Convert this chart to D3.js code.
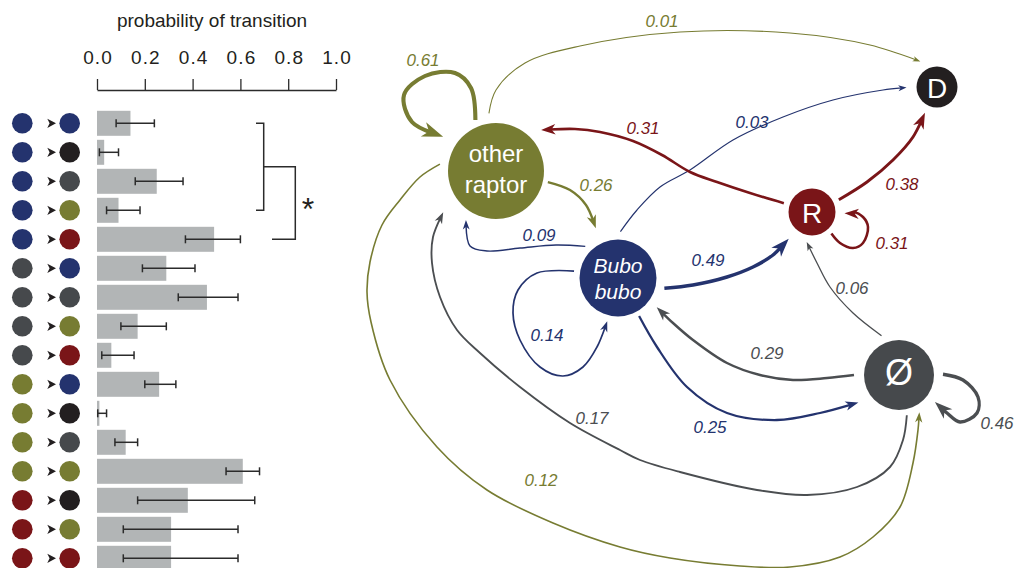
<!DOCTYPE html>
<html>
<head>
<meta charset="utf-8">
<script src="https://cdn.jsdelivr.net/npm/d3@7"></script>
<style>
  html, body { margin: 0; padding: 0; background: #fff; }
  svg { display: block; font-family: "Liberation Sans", Arial, sans-serif; }
</style>
</head>
<body>
<svg id="chart" width="1014" height="568"></svg>
<script>
// ---------------- data ----------------
// states: B = Bubo bubo, D = D, N = Ø (empty), O = other raptor, R = R
const stateKeys = ["B", "D", "N", "O", "R"];
const stateLabels = { B: ["Bubo", "bubo"], D: ["D"], N: ["Ø"], O: ["other", "raptor"], R: ["R"] };

// transitions (one row in the bar panel, one edge in the network)
const transFrom = ["B", "B", "B", "B", "B", "N", "N", "N", "N", "O", "O", "O", "O", "R", "R", "R"];
const transTo   = ["B", "D", "N", "O", "R", "B", "N", "O", "R", "B", "D", "N", "O", "D", "O", "R"];
const probMean  = [0.14, 0.03, 0.25, 0.09, 0.49, 0.29, 0.46, 0.17, 0.06, 0.26, 0.01, 0.12, 0.61, 0.38, 0.31, 0.31];
const ciLow     = [0.08, 0.01, 0.16, 0.04, 0.37, 0.19, 0.34, 0.10, 0.02, 0.20, 0.003, 0.075, 0.54, 0.17, 0.11, 0.11];
const ciHigh    = [0.24, 0.09, 0.36, 0.18, 0.60, 0.41, 0.59, 0.29, 0.155, 0.33, 0.04, 0.17, 0.68, 0.66, 0.59, 0.59];

const axisTicks = [0, 0.2, 0.4, 0.6, 0.8, 1.0];
const axisTitle = "probability of transition";

// significance bracket: rows 0-3 grouped, compared against row 4
const sigGroup = [0, 3];
const sigOther = 4;
const sigMark = "*";

// ---------------- styles ----------------
const stateColor = { B: "#24336e", D: "#231f20", N: "#46494c", O: "#777c32", R: "#7a1518" };
const edgeColor  = { B: "#24336e", D: "#231f20", N: "#4b4e51", O: "#777c32", R: "#7a1518" };
const barColor = "#b2b5b6";
const inkColor = "#2b2b2b";
const FONT = '"Liberation Sans", Arial, sans-serif';

const svg = d3.select("#chart");

// ---------------- bar panel ----------------
const x = d3.scaleLinear().domain([0, 1]).range([97, 336]);
const rows = d3.range(probMean.length);
const y = d3.scaleBand().domain(rows).range([108.8, 572.8]).paddingInner(0.138).paddingOuter(0.069);
const yc = i => y(i) + y.bandwidth() / 2;

svg.append("text")
  .attr("x", 212).attr("y", 27)
  .attr("text-anchor", "middle")
  .attr("font-size", 19).attr("fill", "#231f20")
  .text(axisTitle);

const gAxis = svg.append("g")
  .attr("transform", "translate(0,90)")
  .call(d3.axisTop(x).tickValues(axisTicks).tickFormat(d3.format(".1f"))
    .tickSize(11).tickSizeOuter(0).tickPadding(15));
gAxis.attr("font-family", FONT).attr("font-size", 19);
gAxis.select(".domain").attr("stroke", inkColor).attr("stroke-width", 1.3);
gAxis.selectAll(".tick line").attr("stroke", inkColor).attr("stroke-width", 1.3);
gAxis.selectAll(".tick text").attr("fill", "#231f20")
  .attr("letter-spacing", 1.1).attr("dx", 0.55);

const gRows = svg.append("g");
const row = gRows.selectAll("g.row").data(rows).join("g").attr("class", "row");

row.append("circle")
  .attr("cx", 22.3).attr("cy", yc).attr("r", 10.3)
  .attr("fill", i => stateColor[transFrom[i]]);
row.append("path")
  .attr("d", i => {
    const c = yc(i);
    return `M56,${c} L47.3,${c - 4.6} L49.6,${c} L47.3,${c + 4.6} Z`;
  })
  .attr("fill", "#231f20");
row.append("circle")
  .attr("cx", 69.7).attr("cy", yc).attr("r", 10.3)
  .attr("fill", i => stateColor[transTo[i]]);

row.append("rect")
  .attr("x", x(0)).attr("y", i => y(i))
  .attr("width", i => x(probMean[i]) - x(0))
  .attr("height", y.bandwidth())
  .attr("fill", barColor);

row.append("line")
  .attr("x1", i => x(ciLow[i])).attr("x2", i => x(ciHigh[i]))
  .attr("y1", yc).attr("y2", yc)
  .attr("stroke", inkColor).attr("stroke-width", 1.5);
row.selectAll("line.cap")
  .data(i => [ciLow[i], ciHigh[i]].map(v => ({ v, i })))
  .join("line").attr("class", "cap")
  .attr("x1", d => x(d.v)).attr("x2", d => x(d.v))
  .attr("y1", d => yc(d.i) - 4).attr("y2", d => yc(d.i) + 4)
  .attr("stroke", inkColor).attr("stroke-width", 1.5);

// significance bracket
const yTop = yc(sigGroup[0]), yBot = yc(sigGroup[1]);
const yMid = (yTop + yBot) / 2, yOut = yc(sigOther);
const br = svg.append("g").attr("fill", "none").attr("stroke", inkColor).attr("stroke-width", 1.5);
br.append("path").attr("d", `M256,${yTop} H263.7 V${yBot} H256`);
br.append("path").attr("d", `M263.7,${yMid} H295.3 V${yOut} H272`);
svg.append("text")
  .attr("x", 308).attr("y", (yMid + yOut) / 2 + 17)
  .attr("text-anchor", "middle").attr("font-size", 32).attr("fill", "#231f20")
  .text(sigMark);

// ---------------- network panel ----------------
const nodeLayout = {
  O: { x: 496, y: 171, r: 48 },
  B: { x: 618, y: 278, r: 38.5 },
  R: { x: 812, y: 212, r: 23.5 },
  D: { x: 937, y: 87,  r: 20.5 },
  N: { x: 899, y: 375, r: 35 }
};
const nodeTextStyle = {
  O: { size: 24, italic: false, dy: [-9, 21.7] },
  B: { size: 21, italic: true,  dy: [-5.3, 20.7] },
  R: { size: 28, italic: false, dy: [10.7] },
  D: { size: 28, italic: false, dy: [10.7] },
  N: { size: 36, italic: false, dy: [10] }
};

// edge routing: exit/enter = [angle on node rim (deg), gap from rim], via = waypoints, label = label centre
const routes = {
  "O>O": { exit: [-112, 7], enter: [-147, 15],
           via: [[471, 88], [455, 73], [425, 76], [404, 95], [412, 122]], label: [423, 60] },
  "O>D": { exit: [-97, 10], enter: [-123, 10],
           via: [[496, 90], [525, 63], [580, 46], [680, 32], [790, 33], [870, 45]], label: [662, 21] },
  "O>B": { exit: [12, 5], enter: [-114, 16],
           via: [[570, 190], [586, 205]], label: [596, 185] },
  "O>N": { exit: [-173, 8.5], enter: [61.4, 7.5],
           via: [[420, 177], [400, 200], [382, 225], [370, 262], [367, 292], [371, 322], [390, 380],
                 [437, 447], [487, 490], [553, 523], [620, 547], [670, 558], [740, 566], [790, 567],
                 [840, 557], [873, 537], [900, 507], [913, 463], [918, 430]], label: [541, 480] },
  "B>O": { exit: [-136, 7], enter: [121.5, 9.5],
           via: [[556, 245], [520, 248], [487, 251], [470, 246]], label: [539, 235] },
  "B>B": { exit: [-171, 6], enter: [104, 6],
           via: [[537, 273], [518, 290], [513, 313], [520, 340], [540, 367], [563, 376], [583, 367], [597, 347]],
           label: [547, 335] },
  "B>D": { exit: [-87, 8], enter: [179, 10],
           via: [[637, 210], [660, 187], [690, 170], [733, 140], [783, 117], [833, 100], [883, 90]], label: [752, 122] },
  "B>R": { exit: [12.5, 9], enter: [131, 12],
           via: [[693, 285], [727, 277], [753, 267], [773, 255]], label: [708, 260] },
  "B>N": { exit: [61, 5], enter: [146, 14],
           via: [[657, 347], [687, 387], [727, 413], [777, 420], [820, 413]], label: [710, 427] },
  "N>B": { exit: [180, 10], enter: [37, 10],
           via: [[827, 378], [793, 380], [760, 375], [727, 363], [693, 340], [673, 323]], label: [767, 353] },
  "N>N": { exit: [-1, 9], enter: [37, 10],
           via: [[963, 380], [978, 397], [977, 413], [960, 422], [947, 413]], label: [997, 423] },
  "N>R": { exit: [-114, 8], enter: [100, 7],
           via: [[853, 313], [830, 287], [817, 263]], label: [852, 288] },
  "N>O": { exit: [79, 6], enter: [142, 19],
           via: [[903, 440], [890, 467], [857, 487], [807, 495], [757, 490], [680, 472], [640, 460], [620, 450],
                 [570, 423], [520, 387], [480, 353], [457, 330], [440, 297], [432, 263], [433, 237]], label: [592, 418] },
  "R>O": { exit: [-162.6, 6], enter: [-42.3, 13],
           via: [[750, 193], [717, 182], [690, 172], [662, 155], [633, 141], [600, 132], [575, 129]], label: [643, 128] },
  "R>D": { exit: [-24.5, 6], enter: [115, 8],
           via: [[867, 182], [893, 160], [913, 137]], label: [902, 184] },
  "R>R": { exit: [48, 5.5], enter: [2.3, 9],
           via: [[840, 243], [853, 248], [863, 243], [868, 227], [863, 217], [853, 212]], label: [892, 243] }
};

const rim = (key, [deg, gap]) => {
  const n = nodeLayout[key], a = deg * Math.PI / 180, d = n.r + gap;
  return [n.x + d * Math.cos(a), n.y + d * Math.sin(a)];
};

const widthScale = d3.scaleLinear().domain([0, 0.61]).range([1.0, 4.1]);
const headScale  = d3.scaleLinear().domain([0, 0.61]).range([7.5, 21]);
const lineGen = d3.line().curve(d3.curveCatmullRom.alpha(0.5));

const edges = rows.map(i => ({
  from: transFrom[i], to: transTo[i], p: probMean[i],
  route: routes[transFrom[i] + ">" + transTo[i]]
}));

const gEdges = svg.append("g");
edges.forEach(e => {
  const pts = [rim(e.from, e.route.exit), ...e.route.via, rim(e.to, e.route.enter)];
  const col = edgeColor[e.from];
  const path = gEdges.append("path")
    .attr("d", lineGen(pts))
    .attr("fill", "none")
    .attr("stroke", col)
    .attr("stroke-width", widthScale(e.p));
  const node = path.node();
  const L = node.getTotalLength();
  const hl = headScale(e.p), hw = hl * 0.72;
  const tip = node.getPointAtLength(L);
  const back = node.getPointAtLength(L - hl);
  const ang = Math.atan2(tip.y - back.y, tip.x - back.x) * 180 / Math.PI;
  path.attr("stroke-dasharray", `${L - hl * 0.6} ${L + 20}`);
  gEdges.append("path")
    .attr("d", `M0,0 L${-hl},${-hw / 2} L${-hl * 0.72},0 L${-hl},${hw / 2} Z`)
    .attr("transform", `translate(${tip.x},${tip.y}) rotate(${ang})`)
    .attr("fill", col);
  gEdges.append("text")
    .attr("x", e.route.label[0]).attr("y", e.route.label[1] + 6.2)
    .attr("text-anchor", "middle")
    .attr("font-size", 17).attr("font-style", "italic")
    .attr("fill", col)
    .text(d3.format(".2f")(e.p));
});

const gNodes = svg.append("g");
stateKeys.forEach(k => {
  const n = nodeLayout[k], s = nodeTextStyle[k];
  gNodes.append("circle")
    .attr("cx", n.x).attr("cy", n.y).attr("r", n.r)
    .attr("fill", stateColor[k]);
  stateLabels[k].forEach((t, j) => {
    gNodes.append("text")
      .attr("x", n.x).attr("y", n.y + s.dy[j])
      .attr("text-anchor", "middle")
      .attr("font-size", s.size)
      .attr("font-style", s.italic ? "italic" : "normal")
      .attr("fill", "#fff")
      .text(t);
  });
});
</script>
</body>
</html>
